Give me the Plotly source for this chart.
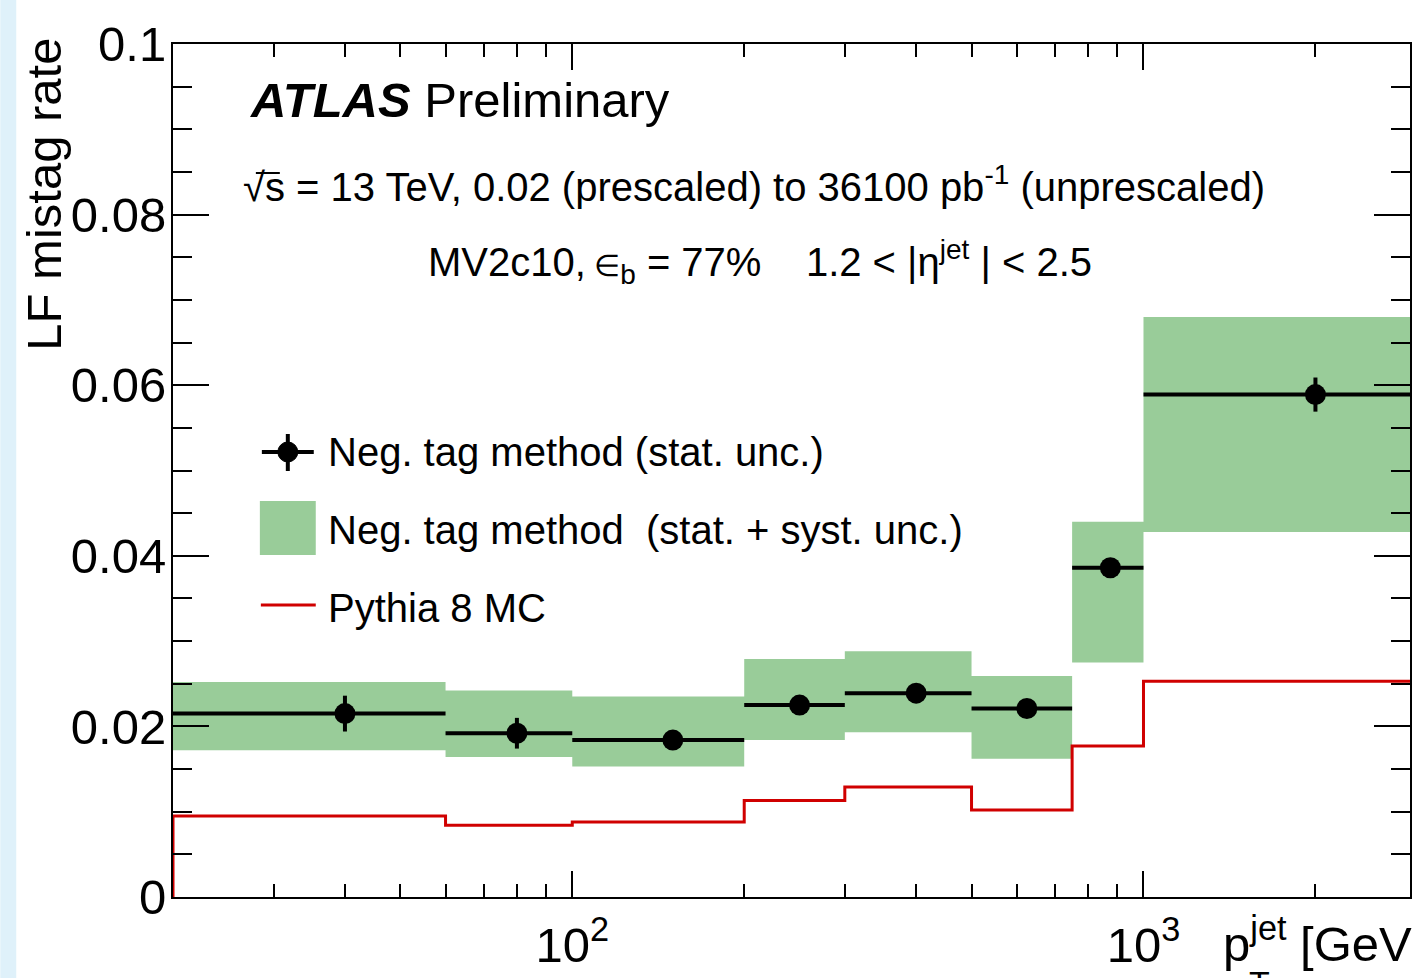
import numpy as np
import plotly.graph_objects as go

# ---------------- data ----------------
bin_edges = [20, 60, 100, 200, 300, 500, 750, 1000, 3000]
bin_centers = [40, 80, 150, 250, 400, 625, 875, 2000]
neg_tag_rate = [0.0215, 0.0192, 0.0184, 0.0225, 0.0239, 0.0221, 0.0386, 0.0589]
neg_tag_stat = [0.0021, 0.0018, 0.0009, 0.0008, 0.0008, 0.0008, 0.0008, 0.0020]
band_high = [0.0252, 0.0242, 0.0235, 0.0279, 0.0288, 0.0259, 0.0440, 0.0680]
band_low = [0.0172, 0.0164, 0.0153, 0.0184, 0.0193, 0.0162, 0.0275, 0.0428]
pythia_mc = [0.0095, 0.0084, 0.0088, 0.0113, 0.0129, 0.0102, 0.0177, 0.0253]

x_tickvals = [100, 1000]
x_ticktext = ["10<sup>2</sup>", "10<sup>3</sup>"]
x_minor_ticks = [20, 30, 40, 50, 60, 70, 80, 90, 200, 300, 400, 500, 600, 700, 800, 900, 2000, 3000]
y_tickvals = [0, 0.02, 0.04, 0.06, 0.08, 0.1]
y_ticktext = ["0", "0.02", "0.04", "0.06", "0.08", "0.1"]

GREEN = "#99cc99"
RED = "#d00000"
FONT = "Liberation Sans, Arial, Helvetica, sans-serif"

# ---------------- layout geometry ----------------
FIG_W, FIG_H = 1412, 978
ML, MT, MB, MR = 173, 44, 81, 0
PW, PH = FIG_W - ML - MR, FIG_H - MT - MB


def px(xp):
    return (xp - ML) / PW


def py(yp):
    return (FIG_H - MB - yp) / PH


fig = go.Figure()

# syst band: one polygon per bin
bx, by = [], []
for lo, hi, ylo, yhi in zip(bin_edges[:-1], bin_edges[1:], band_low, band_high):
    bx += [lo, hi, hi, lo, lo, None]
    by += [ylo, ylo, yhi, yhi, ylo, None]
fig.add_trace(go.Scatter(x=bx, y=by, mode="lines", fill="toself", fillcolor=GREEN,
                         line=dict(width=0, color=GREEN), hoverinfo="skip", showlegend=False))

# Pythia MC histogram
mc_x = [bin_edges[0]] + bin_edges
mc_y = [0] + pythia_mc + [pythia_mc[-1]]
fig.add_trace(go.Scatter(x=mc_x, y=mc_y, mode="lines", line=dict(color=RED, width=3, shape="hv"),
                         showlegend=False))

# data points
err_plus = [hi - c for c, hi in zip(bin_centers, bin_edges[1:])]
err_minus = [c - lo for c, lo in zip(bin_centers, bin_edges[:-1])]
fig.add_trace(go.Scatter(
    x=bin_centers, y=neg_tag_rate, mode="markers",
    marker=dict(color="black", size=21, symbol="circle"),
    error_x=dict(type="data", symmetric=False, array=err_plus, arrayminus=err_minus,
                 color="black", thickness=4, width=0),
    error_y=dict(type="data", array=neg_tag_stat, color="black", thickness=4, width=0),
    showlegend=False))

axis_common = dict(showline=True, linecolor="black", linewidth=2, mirror="ticks",
                   ticks="inside", tickcolor="black", tickwidth=2, showgrid=False,
                   zeroline=False, tickfont=dict(family=FONT, size=49, color="black"))

fig.update_xaxes(type="log", range=[np.log10(20), np.log10(2928)],
                 tickvals=x_tickvals, ticktext=x_ticktext, ticklen=26, ticklabelstandoff=4,
                 minor=dict(tickvals=x_minor_ticks, ticklen=13, tickwidth=2, tickcolor="black",
                            ticks="inside", showgrid=False),
                 **axis_common)
fig.update_yaxes(range=[0, 0.1], tickvals=y_tickvals, ticktext=y_ticktext, ticklen=36,
                 ticklabelstandoff=-5,
                 minor=dict(dtick=0.005, ticklen=19, tickwidth=2, tickcolor="black",
                            ticks="inside", showgrid=False),
                 **axis_common)

shapes = [
    # light blue strip at left page edge
    dict(type="rect", xref="paper", yref="paper", x0=px(0), x1=px(16), y0=py(FIG_H), y1=py(0),
         fillcolor="#dff1fa", line=dict(width=0), layer="below"),
    # legend glyphs
    dict(type="line", xref="paper", yref="paper", x0=px(262), x1=px(314), y0=py(452), y1=py(452),
         line=dict(color="black", width=4)),
    dict(type="line", xref="paper", yref="paper", x0=px(288), x1=px(288), y0=py(434), y1=py(471),
         line=dict(color="black", width=4)),
    dict(type="circle", xref="paper", yref="paper", x0=px(278), x1=px(298), y0=py(442), y1=py(462),
         fillcolor="black", line=dict(color="black", width=1)),
    dict(type="rect", xref="paper", yref="paper", x0=px(260), x1=px(316), y0=py(555), y1=py(501),
         fillcolor=GREEN, line=dict(width=0)),
    dict(type="line", xref="paper", yref="paper", x0=px(261), x1=px(316), y0=py(605), y1=py(605),
         line=dict(color=RED, width=3)),
    # overline of the square root
    dict(type="line", xref="paper", yref="paper", x0=px(256), x1=px(280), y0=py(173), y1=py(173),
         line=dict(color="black", width=2)),
]


def ann(text, x, y, size, xanchor="left", yanchor="middle", angle=0):
    return dict(text=text, x=x, y=y, xref="paper", yref="paper", xanchor=xanchor, yanchor=yanchor,
                showarrow=False, textangle=angle, font=dict(family=FONT, size=size, color="black"))


NB = "\u00a0"
annotations = [
    ann("<b><i>ATLAS</i></b> Preliminary", px(248), py(100), 49),
    ann("√s = 13 TeV, 0.02 (prescaled) to 36100 pb<sup>-1</sup> (unprescaled)", px(241), py(184), 40),
    ann("MV2c10,<span style='font-size:30px'>" + NB + "∈</span><sub>b</sub> = 77%" + NB * 4
        + "1.2 &lt; |η<sup>jet</sup> | &lt; 2.5", px(426), py(262), 40),
    ann("Neg. tag method (stat. unc.)", px(326), py(452), 40),
    ann("Neg. tag method" + NB * 2 + "(stat. + syst. unc.)", px(326), py(530), 40),
    ann("Pythia 8 MC", px(326), py(608), 40),
    ann("LF mistag rate", px(44), py(36), 49, xanchor="center", yanchor="top", angle=-90),
    ann("p<sup>jet</sup> [GeV]", px(1223), py(940), 49),
    ann("T", px(1249), py(962), 34, yanchor="top"),
]

fig.update_layout(width=FIG_W, height=FIG_H, margin=dict(l=ML, r=MR, t=MT, b=MB),
                  paper_bgcolor="white", plot_bgcolor="white", showlegend=False,
                  shapes=shapes, annotations=annotations,
                  font=dict(family=FONT, color="black"))

fig.write_html("out.html", config={"displayModeBar": False})
